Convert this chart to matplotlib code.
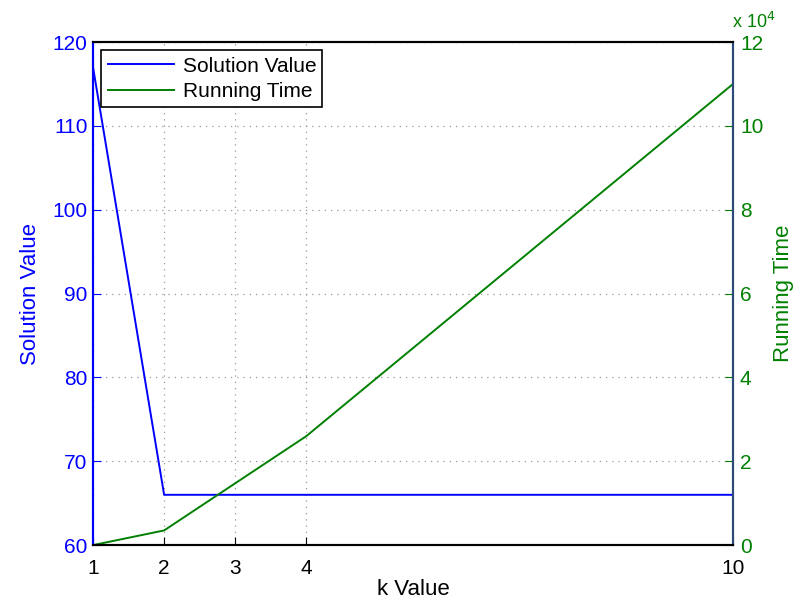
import matplotlib.pyplot as plt

plt.rcParams['font.family'] = ['Liberation Sans', 'DejaVu Sans']

# k values tried and what each run gave
k_values = [1, 2, 4, 10]
solution_value = [117, 66, 66, 66]
running_time = [0, 3500, 26000, 110000]

x_ticks = [1, 2, 3, 4, 10]
blue = '#0000ff'
green = '#008000'

fig = plt.figure(figsize=(7.95, 6.01), dpi=100)
ax1 = fig.add_axes([0.117, 0.093, 0.805, 0.837])
ax2 = ax1.twinx()

l1, = ax1.plot(k_values, solution_value, color=blue, linewidth=1.4, label='Solution Value')
l2, = ax2.plot(k_values, [t / 1e4 for t in running_time], color=green, linewidth=1.4,
               label='Running Time')

ax1.set_xlim(1, 10)
ax1.set_ylim(60, 120)
ax2.set_ylim(0, 12)
ax1.set_xticks(x_ticks)
ax1.set_yticks(range(60, 121, 10))
ax2.set_yticks(range(0, 13, 2))

ax1.grid(True, linestyle=(0, (1, 4)), color='#999999', linewidth=0.9)

ax1.tick_params(axis='y', colors=blue, labelsize=15, direction='in', length=6, pad=4)
ax1.tick_params(axis='x', colors='black', labelsize=15, direction='in', length=6, pad=10)
ax2.tick_params(axis='y', colors=green, labelsize=15, direction='in', length=6, pad=5)

for ax in (ax1, ax2):
    ax.spines['top'].set_color('black')
    ax.spines['bottom'].set_color('black')
    ax.spines['left'].set_color(blue)
    ax.spines['right'].set_color('#2e4a7a')
    for s in ax.spines.values():
        s.set_linewidth(1.5)

ax1.set_xlabel('k Value', fontsize=16, labelpad=1)
ax1.set_ylabel('Solution Value', fontsize=16, color=blue, labelpad=8)
ax2.set_ylabel('Running Time', fontsize=16, color=green, labelpad=7)

ax2.text(0.998, 1.02, r'x 10$^4$', transform=ax2.transAxes, color=green,
         fontsize=13, ha='left', va='bottom')

leg = ax1.legend(handles=[l1, l2], loc='upper left', fontsize=15, fancybox=False,
                 framealpha=1, edgecolor='black', borderpad=0.3, handlelength=3.2,
                 handletextpad=0.4, borderaxespad=0.4, labelspacing=0.3)
leg.get_frame().set_linewidth(1.2)

fig.savefig('out.png', dpi=100)
